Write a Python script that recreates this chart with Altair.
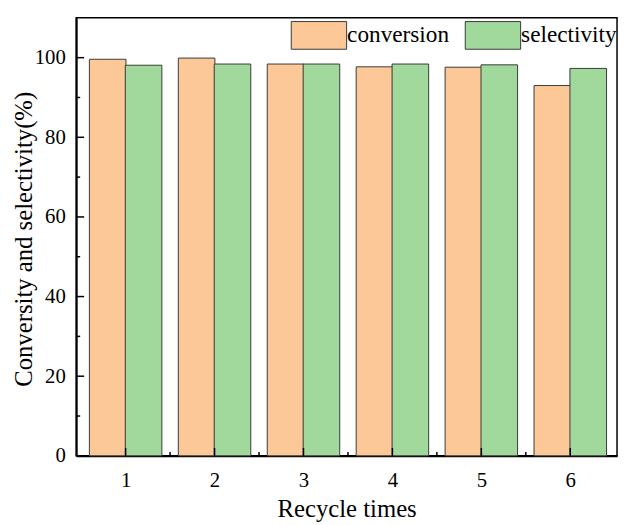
import altair as alt
import pandas as pd

recycle = [1, 2, 3, 4, 5, 6]
conversion = [99.6, 99.9, 98.4, 97.7, 97.6, 93.0]
selectivity = [98.1, 98.4, 98.4, 98.4, 98.2, 97.3]
series = ["conversion", "selectivity"]
colors = ["#FDC897", "#A1D99C"]
y_major = [0, 20, 40, 60, 80, 100]
y_minor = [10, 30, 50, 70, 90]
x_minor = [1.5, 2.5, 3.5, 4.5, 5.5]

W, H = 547, 443
FONT = "Liberation Serif"
XT = "Recycle times"
YT = "Conversity and selectivity(%)"

rows = []
for i, r in enumerate(recycle):
    rows.append({"recycle": r, "series": "conversion", "value": conversion[i], "off": -0.2018})
    rows.append({"recycle": r, "series": "selectivity", "value": selectivity[i], "off": 0.2018})
df = pd.DataFrame(rows)

xs = alt.Scale(domain=[0.5, 6.47], nice=False, zero=False)
ys = alt.Scale(domain=[0, 110], nice=False)

xaxis = alt.Axis(values=recycle, format="d", ticks=False, grid=False,
                 domainColor="black", domainWidth=2,
                 labelFont=FONT, labelFontSize=21, labelColor="black",
                 labelPadding=14, titleFont=FONT, titleFontSize=25,
                 titleFontWeight="normal", titleColor="black",
                 titleBaseline="alphabetic", titleY=61)
yaxis = alt.Axis(values=y_major, ticks=False, grid=False,
                 domainColor="black", domainWidth=2,
                 labelFont=FONT, labelFontSize=21, labelColor="black",
                 labelPadding=11, titleFont=FONT, titleFontSize=25,
                 titleFontWeight="normal", titleColor="black",
                 titleBaseline="alphabetic", titleX=-45, titleY=H / 2 + 2)

bars = alt.Chart(df).transform_calculate(
    pos="datum.recycle + datum.off"
).mark_bar(size=37, stroke="#3a3a3a", strokeWidth=1).encode(
    x=alt.X("pos:Q", scale=xs, title=XT, axis=xaxis),
    y=alt.Y("value:Q", scale=ys, title=YT, axis=yaxis),
    fill=alt.Fill("series:N", scale=alt.Scale(domain=series, range=colors),
                  legend=alt.Legend(title=None, orient="none", legendX=217, legendY=-11,
                                    direction="horizontal",
                                    symbolType="M-1,-0.5H1V0.5H-1Z", symbolSize=3136,
                                    symbolStrokeColor="#3a3a3a", symbolStrokeWidth=1,
                                    symbolOpacity=1,
                                    labelFont=FONT, labelFontSize=23.5, labelColor="black",
                                    labelOffset=0, columnPadding=13, padding=0,
                                    labelLimit=200)),
)

ymaj = alt.Chart(pd.DataFrame({"v": y_major})).mark_rule(color="black", strokeWidth=1.5).encode(
    y=alt.Y("v:Q", scale=ys, title=YT, axis=yaxis), x=alt.value(0), x2=alt.value(8))
ymin = alt.Chart(pd.DataFrame({"v": y_minor})).mark_rule(color="black", strokeWidth=1.5).encode(
    y=alt.Y("v:Q", scale=ys, title=YT, axis=yaxis), x=alt.value(0), x2=alt.value(4))
xmaj = alt.Chart(pd.DataFrame({"v": recycle})).mark_rule(color="black", strokeWidth=1.5).encode(
    x=alt.X("v:Q", scale=xs, title=XT, axis=xaxis), y=alt.value(H), y2=alt.value(H - 8))
xmin = alt.Chart(pd.DataFrame({"v": x_minor})).mark_rule(color="black", strokeWidth=1.5).encode(
    x=alt.X("v:Q", scale=xs, title=XT, axis=xaxis), y=alt.value(H), y2=alt.value(H - 4))

chart = alt.layer(bars, ymaj, ymin, xmaj, xmin).properties(
    width=W, height=H,
    autosize=alt.AutoSizeParams(type="none"),
    padding={"left": 69, "top": 7, "right": 2, "bottom": 67},
).configure(background="white").configure_view(stroke="black", strokeWidth=1.5)

chart.save("out.html", embed_options={"renderer": "svg", "actions": False})
